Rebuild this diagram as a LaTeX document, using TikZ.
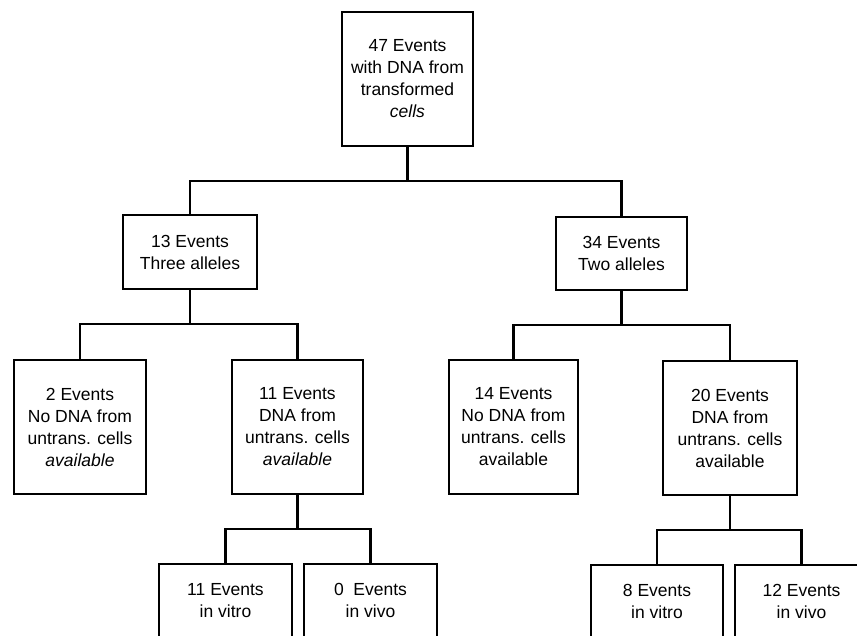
\documentclass[tikz,border=0pt]{standalone}
\usepackage{fontspec}
\setmainfont{Liberation Sans}
\begin{document}
\begin{tikzpicture}[x=1pt,y=-1pt,
  box/.style={draw, line width=2.2pt, inner sep=0pt, align=center, font=\fontsize{17.5}{22}\selectfont},
  conn/.style={line width=2.2pt}]
\useasboundingbox (0,0) rectangle (857,636);
\clip (0,0) rectangle (857,636);
\node[box, minimum width=131, minimum height=134] (top) at (407.5,79) {47 Events\\with DNA from\\transformed\\\textit{cells}};
\node[box, minimum width=134, minimum height=74] (a) at (190,252) {13 Events\\Three alleles};
\node[box, minimum width=131, minimum height=73] (b) at (621.5,253.5) {34 Events\\Two alleles};
\node[box, minimum width=132, minimum height=134] (a1) at (80,427) {2 Events\\No DNA from\\untrans. cells\\\textit{available}};
\node[box, minimum width=131, minimum height=134] (a2) at (297.5,427) {11 Events\\DNA from\\untrans. cells\\\textit{available}};
\node[box, minimum width=129, minimum height=134] (b1) at (513.5,427) {14 Events\\No DNA from\\untrans. cells\\available};
\node[box, minimum width=134, minimum height=134] (b2) at (730,428) {20 Events\\DNA from\\untrans. cells\\available};
\node[box, minimum width=133, minimum height=116] (a21) at (225.5,622) {11 Events\\in vitro\\[22pt]\mbox{}};
\node[box, minimum width=133, minimum height=116] (a22) at (370.5,622) {0\ \ Events\\in vivo\\[22pt]\mbox{}};
\node[box, minimum width=132, minimum height=116] (b21) at (657,623) {8 Events\\in vitro\\[22pt]\mbox{}};
\node[box, minimum width=133, minimum height=116] (b22) at (801.5,623) {12 Events\\in vivo\\[22pt]\mbox{}};
\coordinate (j0) at (407.5,181);
\coordinate (ja) at (190,324);
\coordinate (jb) at (621.5,325);
\coordinate (ja2) at (297.5,529);
\coordinate (jb2) at (730,530);
\draw[conn] (top.south) -- (j0);
\draw[conn] (j0) -| (a.north);
\draw[conn] (j0) -| (b.north);
\draw[conn] (a.south) -- (ja);
\draw[conn] (ja) -| (a1.north);
\draw[conn] (ja) -| (a2.north);
\draw[conn] (b.south) -- (jb);
\draw[conn] (jb) -| (b1.north);
\draw[conn] (jb) -| (b2.north);
\draw[conn] (a2.south) -- (ja2);
\draw[conn] (ja2) -| (a21.north);
\draw[conn] (ja2) -| (a22.north);
\draw[conn] (b2.south) -- (jb2);
\draw[conn] (jb2) -| (b21.north);
\draw[conn] (jb2) -| (b22.north);
\end{tikzpicture}
\end{document}
